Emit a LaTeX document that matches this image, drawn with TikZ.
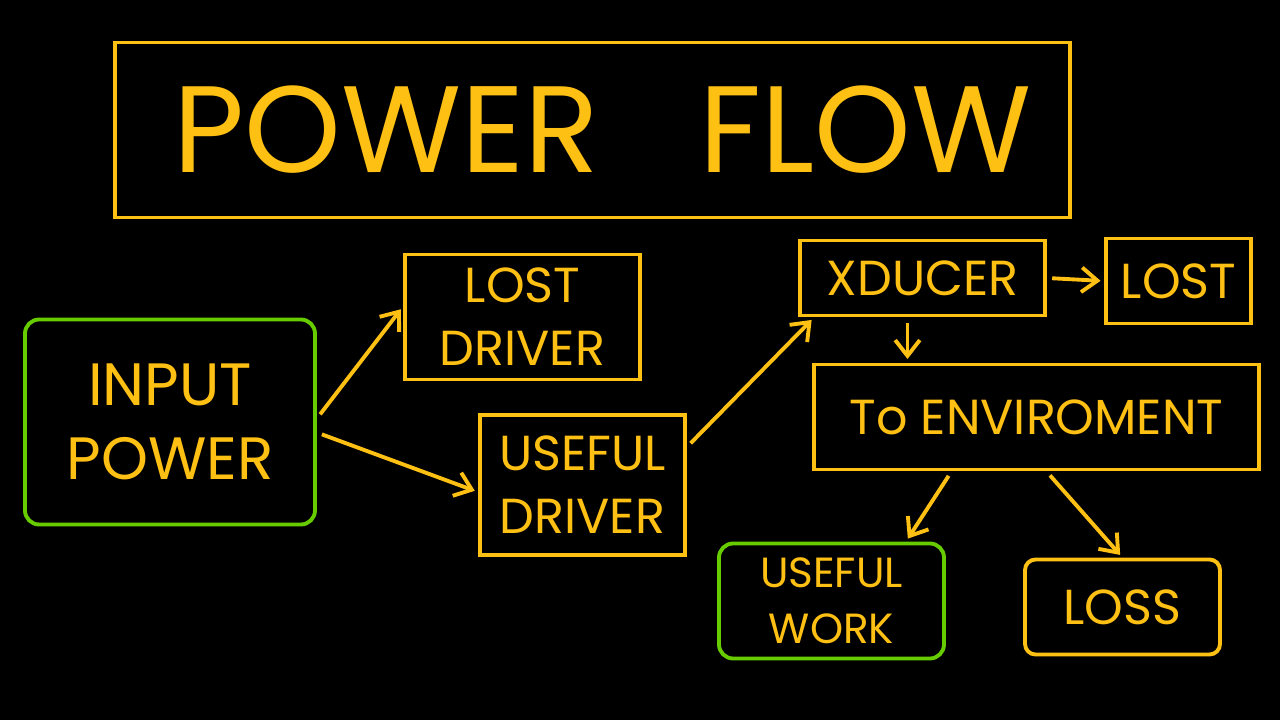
\documentclass[tikz,border=0pt]{standalone}
\usepackage{fontspec}
\setmainfont{Poppins}
\usetikzlibrary{arrows.meta,positioning}
\definecolor{amber}{RGB}{255,192,20}
\definecolor{chalkgreen}{RGB}{102,204,0}

\begin{document}
\begin{tikzpicture}
		[
			align=center,
			box/.style={draw=amber, line width=2.2pt, text=amber, inner sep=0pt},
			greenbox/.style={box, draw=chalkgreen, rounded corners=8pt},
			word/.style={font=\fontsize{28}{36}\selectfont},
			arrow/.style={-{Straight Barb[length=9pt,width=14pt]}, amber, line width=2.2pt, shorten <=3pt, shorten >=2pt}
		]

		% black board
		\fill[black] (0,0) rectangle (25.6,14.4);
		\useasboundingbox (0,0) rectangle (25.6,14.4);

		% title
		\node[box, minimum width=19.1cm, minimum height=3.5cm] (title) at ( 11.85, 11.8 )
			{\hspace{0.4cm}\fontsize{70}{70}\selectfont POWER\hspace{2.0cm}FLOW};

		% boxes
		\node[greenbox, minimum width=5.8cm, minimum height=4.1cm, font=\fontsize{34}{42}\selectfont]
			(inp) at (  3.40,  5.96 ) {INPUT\\POWER};
		\node[box, minimum width=4.7cm, minimum height=2.5cm, word]	(lostdrv) at ( 10.45,  8.06 ) {LOST\\DRIVER};
		\node[box, minimum width=4.1cm, minimum height=2.8cm, word]	(usedrv) at ( 11.65,  4.70 ) {USEFUL\\DRIVER};
		\node[box, minimum width=4.9cm, minimum height=1.5cm, word]	(xducer) at ( 18.45,  8.84 ) {XDUCER};
		\node[box, minimum width=2.9cm, minimum height=1.7cm, word]	(lost) at ( 23.57,  8.78 ) {LOST};
		\node[box, minimum width=8.9cm, minimum height=2.1cm, word]	(env) at ( 20.73,  6.06 ) {To ENVIROMENT};
		\node[greenbox, minimum width=4.5cm, minimum height=2.3cm, font=\fontsize{24}{32}\selectfont]
			(work) at ( 16.63,  2.38 ) {USEFUL\\WORK};
		\node[box, minimum width=3.9cm, minimum height=1.9cm, rounded corners=6pt, word]	(loss) at ( 22.45,  2.26 ) {LOSS};

		% power paths
		\draw[arrow] ([yshift=2pt]inp.east) -- ([yshift=6pt]lostdrv.west);
		\draw[arrow] ([yshift=-6pt]inp.east) -- ([yshift=-4pt]usedrv.west);
		\draw[arrow] (usedrv.20) -- (xducer.200);
		\draw[arrow] (xducer.east) -- (lost.west);
		\draw[arrow] ([xshift=-0.3cm]xducer.south) -- ([xshift=-0.3cm]xducer.south |- env.north);
		\draw[arrow] ([xshift=-1.7cm]env.south) -- ([xshift=-0.8cm]work.north east);
		\draw[arrow] ([xshift=0.2cm]env.south) -- (loss.north);

	\end{tikzpicture}
\end{document}
